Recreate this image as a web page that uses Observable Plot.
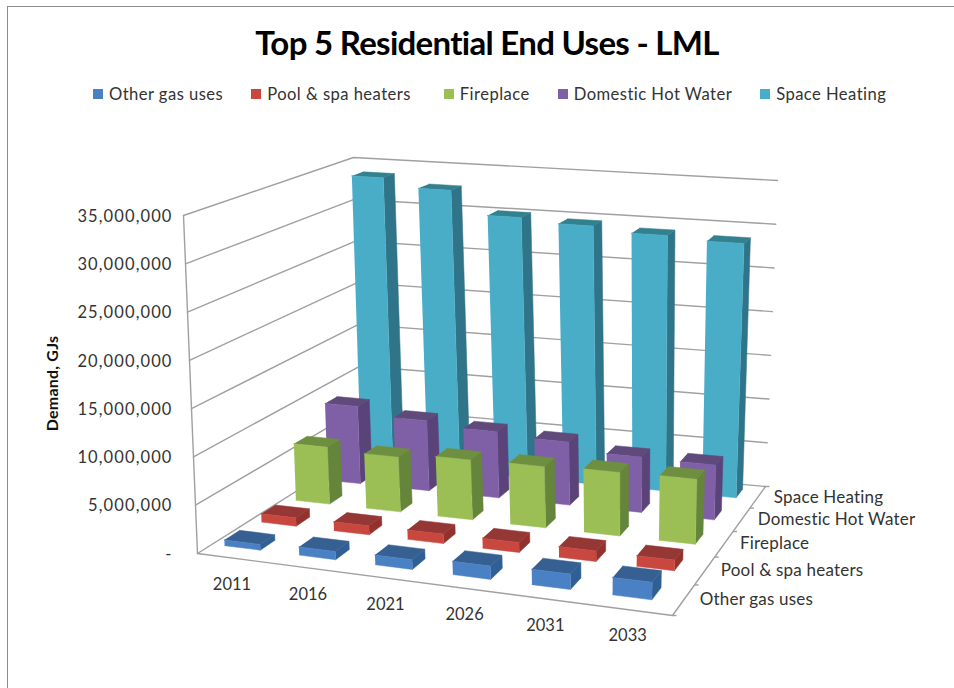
<!DOCTYPE html>
<html>
<head>
<meta charset="utf-8">
<script src="https://cdn.jsdelivr.net/npm/d3@7"></script>
<script src="https://cdn.jsdelivr.net/npm/@observablehq/plot@0.6"></script>
<style>
  html, body { margin: 0; padding: 0; background: #fff; overflow: hidden; }
  #page { position: relative; width: 954px; height: 688px; font-family: Lato, "Open Sans", sans-serif; }
  #frame { position: absolute; left: 7px; top: 6px; right: 0; bottom: 0; border-top: 1.5px solid #8c8c8c; border-left: 1.5px solid #8c8c8c; }
  #title { position: absolute; left: 7px; width: 960px; top: 20px; text-align: center; font-size: 33px; font-weight: 700; color: #000; line-height: 44px; letter-spacing: -0.7px; }
  #legend { position: absolute; left: 93px; top: 83px; display: flex; gap: 28px; font-size: 16.6px; color: #333; line-height: 22px; white-space: nowrap; letter-spacing: 0.45px; }
  #legend span.item { display: flex; align-items: center; gap: 6px; }
  #legend span.item:nth-child(3) { margin-left: 5px; }
  #legend i { display: inline-block; width: 10px; height: 10px; }
  svg { position: absolute; left: 0; top: 0; }
  .value-labels text { letter-spacing: 1.1px; }
  .depth-labels text { letter-spacing: 0.2px; }
  .axis-title text { letter-spacing: 0.2px; }
</style>
</head>
<body>
<div id="page">
  <div id="frame"></div>
  <div id="chart"></div>
  <div id="title">Top 5 Residential End Uses - LML</div>
  <div id="legend"></div>
</div>
<script>
// Categories and series, front row first
const years = ["2011", "2016", "2021", "2026", "2031", "2033"];
const seriesNames = ["Other gas uses", "Pool & spa heaters", "Fireplace", "Domestic Hot Water", "Space Heating"];

// Annual demand in GJ per end use
const otherGasUses = [600000, 850000, 1000000, 1350000, 1550000, 1750000];
const poolSpaHeaters = [900000, 950000, 1000000, 1050000, 1100000, 1100000];
const fireplace = [6300000, 6000000, 6500000, 6600000, 6800000, 6900000];
const domesticHotWater = [8800000, 7900000, 7400000, 7000000, 6100000, 6000000];
const spaceHeating = [33650000, 32650000, 30000000, 29550000, 29000000, 28650000];
const seriesValues = [otherGasUses, poolSpaHeaters, fireplace, domesticHotWater, spaceHeating];

// Front, side and top shades for each series
const frontColors = ["#4a80c4", "#c8473f", "#9bbe55", "#7f5fa6", "#4aadc8"];
const sideColors = ["#2f5f94", "#93322c", "#64853a", "#5a4378", "#2f7488"];
const topColors = ["#376092", "#953735", "#6f8f40", "#604a7b", "#33808f"];

const valueTicks = [0, 5e6, 10e6, 15e6, 20e6, 25e6, 30e6, 35e6];
const valueMax = 35e6;

// Perspective box: corners of the floor and of the ceiling at valueMax
const floorCorners = [[197, 553], [672, 615], [765, 486], [362, 449]];
const ceilingCorners = [[183, 215], [683, 260], [777, 180], [353, 157]];
const barWidth = 0.48;
const barDepth = 0.40;
// Evens out the year spacing, which foreshortens less than the box corners imply
const yearSpread = 0.087;
// Bars sit slightly behind their row centre and left of the year centre, row by row
const rowOffset = 0.08;
const rowLean = [0.095, 0.093, 0.088, 0.084, 0.02];

// Unit square to quadrilateral homography
function quadMap([p0, p1, p2, p3]) {
  const dx1 = p1[0] - p2[0], dx2 = p3[0] - p2[0], sx = p0[0] - p1[0] + p2[0] - p3[0];
  const dy1 = p1[1] - p2[1], dy2 = p3[1] - p2[1], sy = p0[1] - p1[1] + p2[1] - p3[1];
  const den = dx1 * dy2 - dx2 * dy1;
  const g = (sx * dy2 - dx2 * sy) / den, h = (dx1 * sy - sx * dy1) / den;
  const a = p1[0] - p0[0] + g * p1[0], b = p3[0] - p0[0] + h * p3[0];
  const d = p1[1] - p0[1] + g * p1[1], e = p3[1] - p0[1] + h * p3[1];
  return (u, v) => {
    const w = g * u + h * v + 1;
    return [(a * u + b * v + p0[0]) / w, (d * u + e * v + p0[1]) / w];
  };
}
const floorMap = quadMap(floorCorners);
const ceilingMap = quadMap(ceilingCorners);

// (year position, series position, value) to chart coordinates
function project(u, v, value) {
  const r = u / years.length;
  const s = (1 + yearSpread) * r / (1 + yearSpread * r);
  const f = floorMap(s, v / seriesNames.length);
  const c = ceilingMap(s, v / seriesNames.length);
  const t = value / valueMax;
  return [f[0] + (c[0] - f[0]) * t, f[1] + (c[1] - f[1]) * t];
}

// Polygons of every bar, painted from the back row forward and left to right
const faces = [];
function addFace(id, color, corners) {
  for (const [u, v, h] of corners) {
    const [px, py] = project(u, v, h);
    faces.push({id, color, px, py});
  }
}
for (let s = seriesNames.length - 1; s >= 0; s--) {
  years.forEach((year, y) => {
    const value = seriesValues[s][y];
    const uc = y + 0.5 - rowLean[s];
    const vc = s + 0.5 + rowOffset;
    const u0 = uc - barWidth / 2, u1 = uc + barWidth / 2;
    const v0 = vc - barDepth / 2, v1 = vc + barDepth / 2;
    const key = `${s}-${y}`;
    addFace(key + "-side", sideColors[s], [[u1, v0, 0], [u1, v1, 0], [u1, v1, value], [u1, v0, value]]);
    addFace(key + "-top", topColors[s], [[u0, v0, value], [u1, v0, value], [u1, v1, value], [u0, v1, value]]);
    addFace(key + "-front", frontColors[s], [[u0, v0, 0], [u1, v0, 0], [u1, v0, value], [u0, v0, value]]);
  });
}

// Wall gridlines and the floor outline
const grid = [];
valueTicks.forEach(h => {
  [[0, 0], [0, seriesNames.length], [years.length, seriesNames.length]].forEach(([u, v]) => {
    const [px, py] = project(u, v, h);
    grid.push({id: "g" + h, px, py});
  });
});
[[0, 0, 0], [0, 0, valueMax]].forEach(p => {
  const [px, py] = project(...p);
  grid.push({id: "axis", px, py});
});
[[0, 0, 0], [years.length, 0, 0], [years.length, seriesNames.length, 0]].forEach(p => {
  const [px, py] = project(...p);
  grid.push({id: "floor", px, py});
});

const valueLabels = valueTicks.map(h => ({
  y: project(0, 0, h)[1],
  label: h === 0 ? "-" : d3.format(",")(h)
}));
const yearLabels = years.map((label, i) => {
  const [x, y] = project(i + 0.5, 0, 0);
  return {x, y, label};
});
const seriesLabels = seriesNames.map((label, i) => {
  const [x, y] = project(years.length, i + 0.5, 0);
  return {x, y, label};
});
const depthTicks = d3.range(seriesNames.length + 1).map(i => {
  const [x, y] = project(years.length, i, 0);
  return {x, y};
});

const labelFill = "#333";
const chart = Plot.plot({
  width: 954,
  height: 688,
  margin: 0,
  style: {fontFamily: "Lato, 'Open Sans', sans-serif", background: "transparent"},
  x: {domain: [0, 954], range: [0, 954], axis: null},
  y: {domain: [0, 688], range: [0, 688], axis: null},
  color: {type: "identity"},
  marks: [
    Plot.line(grid, {x: "px", y: "py", z: "id", stroke: "#a0a0a0", strokeWidth: 1.4}),
    Plot.link(depthTicks, {x1: "x", y1: "y", x2: d => d.x + 4, y2: "y", stroke: "#a0a0a0", strokeWidth: 1.4}),
    Plot.line(faces, {x: "px", y: "py", z: "id", fill: "color", stroke: "color", strokeWidth: 0.5}),
    Plot.text(valueLabels, {x: () => 172, y: "y", text: "label", dy: 1, textAnchor: "end", fontSize: 16.5, fill: labelFill, className: "value-labels"}),
    Plot.text(yearLabels, {x: "x", y: "y", text: "label", dx: -3, dy: 26, fontSize: 16.5, fill: labelFill}),
    Plot.text(seriesLabels, {x: "x", y: "y", text: "label", dx: 16, dy: 0, textAnchor: "start", fontSize: 17, fill: labelFill, className: "depth-labels"}),
    Plot.text(["Demand, GJs"], {x: () => 52, y: () => 383, text: d => d, rotate: -90, fontSize: 16, fontWeight: 700, fill: "#111", className: "axis-title"})
  ]
});
document.getElementById("chart").appendChild(chart);

// Legend row
const legend = document.getElementById("legend");
seriesNames.forEach((name, i) => {
  const item = document.createElement("span");
  item.className = "item";
  const swatch = document.createElement("i");
  swatch.style.background = frontColors[i];
  item.appendChild(swatch);
  item.appendChild(document.createTextNode(name));
  legend.appendChild(item);
});
</script>
</body>
</html>
